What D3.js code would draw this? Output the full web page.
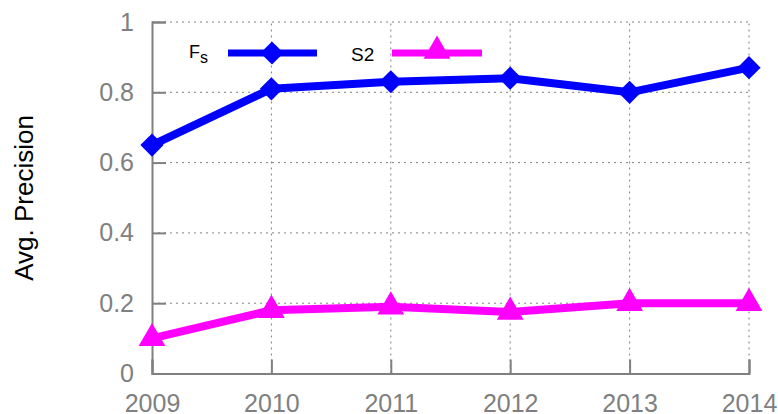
<!DOCTYPE html>
<html><head><meta charset="utf-8">
<script src="https://cdn.jsdelivr.net/npm/d3@7"></script>
<style>body{margin:0;background:#fff}svg{display:block}</style>
</head><body>
<script>
const years = [2009, 2010, 2011, 2012, 2013, 2014];
const fsValues = [0.65, 0.81, 0.83, 0.84, 0.80, 0.87];
const s2Values = [0.10, 0.18, 0.19, 0.175, 0.20, 0.20];
const yTicks = [0, 0.2, 0.4, 0.6, 0.8, 1];
const yTickLabels = ["0", "0.2", "0.4", "0.6", "0.8", "1"];

const W = 778, H = 414;
const svg = d3.select("body").append("svg").attr("width", W).attr("height", H);
const x = d3.scaleLinear().domain([2009, 2014]).range([152, 749]);
const y = d3.scaleLinear().domain([0, 1]).range([373.5, 22]);
const font = "'Liberation Sans', Arial, sans-serif";
const gray = "#808080";

// grid
const grid = svg.append("g").attr("stroke", gray).attr("stroke-width", 1).attr("stroke-dasharray", "2,4");
yTicks.filter(d => d > 0).forEach(d => grid.append("line").attr("x1", x(2009)).attr("x2", x(2014)).attr("y1", y(d)).attr("y2", y(d)));
years.filter(d => d > 2009).forEach(d => grid.append("line").attr("x1", x(d)).attr("x2", x(d)).attr("y1", y(0)).attr("y2", y(1)));

// axes
const yAxis = d3.axisLeft(y).tickValues(yTicks).tickFormat((d, i) => yTickLabels[i]).tickSize(-14).tickPadding(18);
const gy = svg.append("g").attr("transform", `translate(${x(2009)},0)`).call(yAxis);
const xAxis = d3.axisBottom(x).tickValues(years).tickFormat(d3.format("d")).tickSize(-14).tickPadding(21);
const gx = svg.append("g").attr("transform", `translate(0,${y(0)})`).call(xAxis);
[gx, gy].forEach(g => {
  g.select(".domain").attr("stroke", gray).attr("stroke-width", 2);
  g.selectAll(".tick line").attr("stroke", gray).attr("stroke-width", 2);
  g.selectAll(".tick text").attr("fill", gray).attr("font-size", 25).attr("font-family", font);
});

// y label
svg.append("text").attr("transform", `translate(33,198) rotate(-90)`).attr("text-anchor", "middle")
  .attr("font-family", font).attr("font-size", 26).attr("fill", "#000").text("Avg. Precision");

const line = d3.line().x((d, i) => x(years[i])).y(d => y(d));
const diamond = d3.symbol().type(d3.symbolSquare).size(270);
const tri = d3.symbol().type(d3.symbolTriangle).size(310);

function series(vals, color, sym, rot) {
  svg.append("path").datum(vals).attr("d", line).attr("fill", "none").attr("stroke", color)
    .attr("stroke-width", 8).attr("stroke-linejoin", "round");
  svg.append("g").selectAll("path").data(vals).join("path").attr("d", sym)
    .attr("transform", (d, i) => `translate(${x(years[i])},${y(d)}) rotate(${rot})`).attr("fill", color);
}
series(s2Values, "#ff00ff", tri, 0);
series(fsValues, "#0000ff", diamond, 45);

// legend
const lg = svg.append("g").attr("font-family", font).attr("font-size", 18).attr("fill", "#000");
const fsT = lg.append("text").attr("x", 189).attr("y", 58);
fsT.append("tspan").text("F");
fsT.append("tspan").attr("font-size", 16).attr("dy", 5).text("s");
lg.append("line").attr("x1", 228).attr("x2", 317).attr("y1", 53).attr("y2", 53).attr("stroke", "#0000ff").attr("stroke-width", 7);
lg.append("path").attr("d", diamond).attr("transform", "translate(272,53) rotate(45)").attr("fill", "#0000ff");
lg.append("text").attr("x", 351).attr("y", 61).attr("font-size", 19).text("S2");
lg.append("line").attr("x1", 392).attr("x2", 482).attr("y1", 53).attr("y2", 53).attr("stroke", "#ff00ff").attr("stroke-width", 7);
lg.append("path").attr("d", tri).attr("transform", "translate(437,51)").attr("fill", "#ff00ff");
</script>
</body></html>
